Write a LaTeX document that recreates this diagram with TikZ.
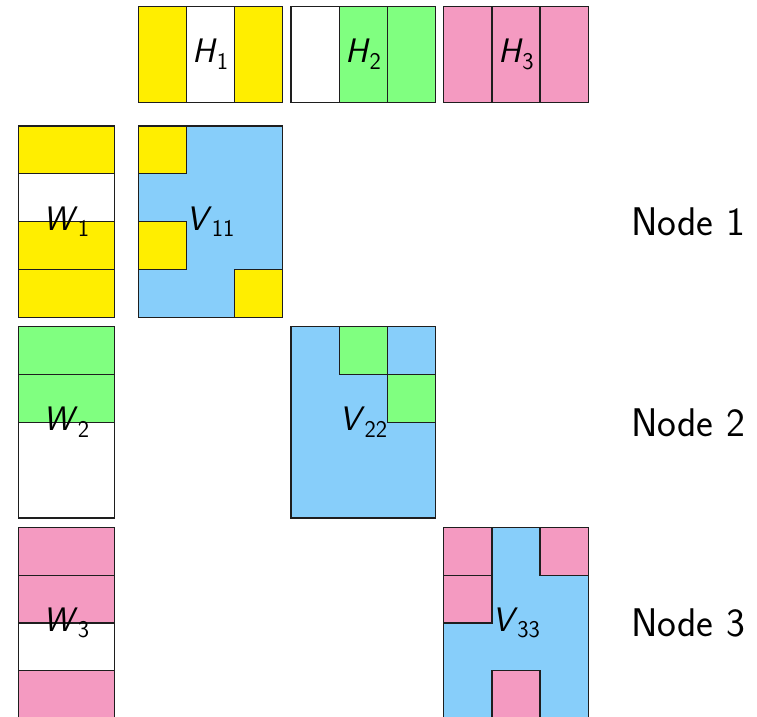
\documentclass[tikz,border=0pt]{standalone}
\usepackage{fontspec}
\definecolor{cyel}{RGB}{255,238,0}
\definecolor{cgrn}{RGB}{128,255,128}
\definecolor{cpnk}{RGB}{244,154,193}
\definecolor{cblu}{RGB}{135,206,250}
\definecolor{edge}{RGB}{30,30,30}
% sans italic letter with a sans subscript
\newcommand\sv[2]{\textit{#1}\kern-0.5pt\raisebox{-6.5pt}{\fontsize{24}{24}\selectfont #2}}
\tikzset{
  cell/.style={draw=edge, line width=1.2pt},
  lab/.style={inner sep=0pt, font=\fontsize{34}{36}\selectfont\sffamily},
  nodelab/.style={inner sep=0pt, font=\fontsize{40}{42}\selectfont\sffamily}
}
\begin{document}
\begin{tikzpicture}[x=1pt,y=-1pt]
\useasboundingbox (0,0) rectangle (757,716);
\clip (0,0) rectangle (757,716);
\def\cw{48.1}
\def\ch{47.8}
% column blocks H_k: outline, then coloured vertical strips
\foreach \x/\cells/\f/\n in {138.3/{0,2}/cyel/1, 291.0/{1,2}/cgrn/2, 443.8/{0,1,2}/cpnk/3}{
  \filldraw[cell, fill=white] (\x,6.5) rectangle ++(3*\cw,2*\ch);
  \foreach \c in \cells
    \filldraw[cell, fill=\f] ({\x+\c*\cw},6.5) rectangle ++(\cw,2*\ch);
  \node[lab] (H\n) at ({\x+1.5*\cw},{6.5+\ch}) {\sv{H}{\n}};
}
% row blocks W_k: outline, then coloured horizontal strips
\foreach \y/\cells/\f/\n in {126.0/{0,2,3}/cyel/1, 326.7/{0,1}/cgrn/2, 527.3/{0,1,3}/cpnk/3}{
  \filldraw[cell, fill=white] (18.3,\y) rectangle ++(2*\cw,4*\ch);
  \foreach \r in \cells
    \filldraw[cell, fill=\f] (18.3,{\y+\r*\ch}) rectangle ++(2*\cw,\ch);
  \node[lab] (W\n) at ({18.3+\cw},{\y+2*\ch}) {\sv{W}{\n}};
}
% diagonal blocks V_kk with their coloured cells (column/row)
\filldraw[cell, fill=cblu] (138.3,126.0) rectangle ++(3*\cw,4*\ch);
\foreach \c/\r in {0/0, 0/2, 2/3}
  \filldraw[cell, fill=cyel] ({138.3+\c*\cw},{126.0+\r*\ch}) rectangle ++(\cw,\ch);
\node[lab] (V11) at ({138.3+1.5*\cw},{126.0+2*\ch}) {\sv{V}{11}};

\filldraw[cell, fill=cblu] (291.0,326.7) rectangle ++(3*\cw,4*\ch);
\foreach \c/\r in {1/0, 2/1}
  \filldraw[cell, fill=cgrn] ({291.0+\c*\cw},{326.7+\r*\ch}) rectangle ++(\cw,\ch);
\node[lab] (V22) at ({291.0+1.5*\cw},{326.7+2*\ch}) {\sv{V}{22}};

\filldraw[cell, fill=cblu] (443.8,527.3) rectangle ++(3*\cw,4*\ch);
\foreach \c/\r in {0/0, 0/1, 2/0, 1/3}
  \filldraw[cell, fill=cpnk] ({443.8+\c*\cw},{527.3+\r*\ch}) rectangle ++(\cw,\ch);
\node[lab] (V33) at ({443.8+1.5*\cw},{527.3+2*\ch}) {\sv{V}{33}};

% node labels
\node[nodelab] (n1) at (688,{126.0+2*\ch}) {Node 1};
\node[nodelab] (n2) at (688,{326.7+2*\ch}) {Node 2};
\node[nodelab] (n3) at (688,{527.3+2*\ch}) {Node 3};
\end{tikzpicture}
\end{document}
